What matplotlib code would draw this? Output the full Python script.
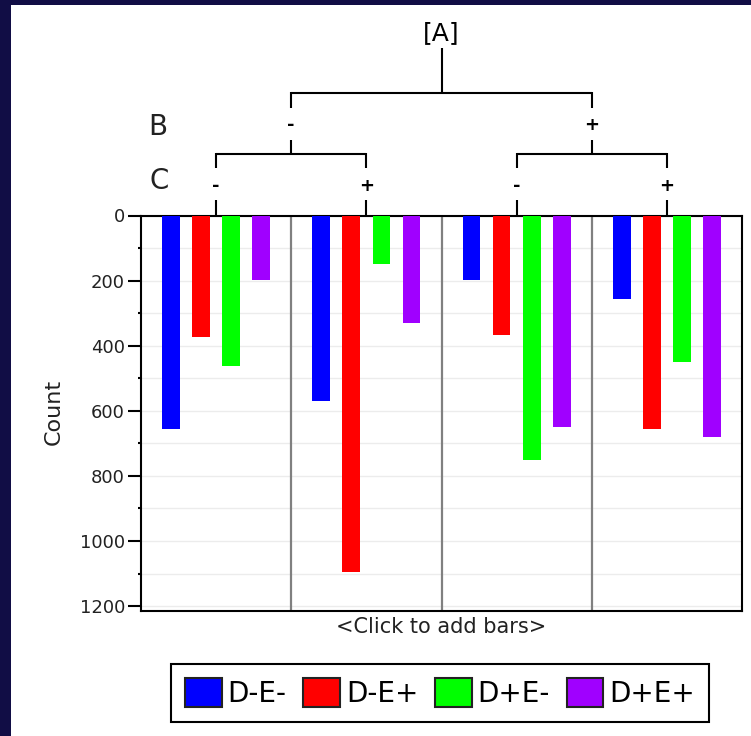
import numpy as np
import matplotlib
matplotlib.use("Agg")
import matplotlib.pyplot as plt
from matplotlib.patches import Patch, Rectangle
from matplotlib.transforms import blended_transform_factory
from matplotlib.ticker import MultipleLocator


##### data #####
SERIES = ["D-E-", "D-E+", "D+E-", "D+E+"]
COLORS = ["#0000ff", "#ff0000", "#00ff00", "#a000ff"]

# panel order: (B-,C-), (B-,C+), (B+,C-), (B+,C+)
B_LEVELS = ["-", "+"]
C_LEVELS = ["-", "+"]

COUNT_DmEm = [657, 569, 199, 255]
COUNT_DmEp = [373, 1095, 368, 657]
COUNT_DpEm = [461, 148, 750, 450]
COUNT_DpEp = [198, 331, 650, 681]

YTICKS = [0, 200, 400, 600, 800, 1000, 1200]


##### figure #####
W, H = 751, 736
fig = plt.figure(figsize=(W / 100, H / 100), dpi=100)
fig.patch.set_facecolor("#110d45")
fig.patches.append(Rectangle((11 / W, 0), 1, 1 - 5 / H, transform=fig.transFigure,
                             facecolor="white", edgecolor="none", zorder=-10))

def fy(p):
    # pixel row -> figure fraction
    return 1 - p / H

ax = fig.add_axes([141 / W, fy(611), (742 - 141) / W, (611 - 215.5) / H])

values = [COUNT_DmEm, COUNT_DmEp, COUNT_DpEm, COUNT_DpEp]
n_panels = len(COUNT_DmEm)
x = np.arange(n_panels)
width = 0.118
offsets = [-0.3, -0.1, 0.1, 0.3]

for vals, off, col, name in zip(values, offsets, COLORS, SERIES):
    ax.bar(x + off, vals, width=width, color=col, edgecolor="none", zorder=3, label=name)

for sep in x[:-1] + 0.5:
    ax.axvline(sep, color="#808080", linewidth=1.6, zorder=2)

ax.set_xlim(-0.5, n_panels - 0.5)
ax.set_ylim(1215, 0)
ax.set_xticks([])
ax.set_yticks(YTICKS)
ax.yaxis.set_minor_locator(MultipleLocator(100))
ax.yaxis.grid(True, which="both", color="#ececec", linewidth=1.0, zorder=0)
ax.set_axisbelow(True)
ax.tick_params(axis="y", which="major", length=9.5, width=1.5, pad=2, labelsize=13, labelcolor="#222222")
ax.tick_params(axis="y", which="minor", length=2.5, width=1.5)
for s in ax.spines.values():
    s.set_linewidth(1.5)

ax.set_xlabel("<Click to add bars>", fontsize=15, labelpad=4, color="#222222")
fig.text(54 / W, fy(412), "Count", rotation=90, ha="center", va="center", fontsize=16, color="#222222")


##### factor tree above the bars #####
tr = blended_transform_factory(ax.transData, fig.transFigure)
lk = dict(color="black", linewidth=1.5, transform=tr, clip_on=False, solid_capstyle="butt")

def vline(xv, p0, p1):
    ax.plot([xv, xv], [fy(p0), fy(p1)], **lk)

def hline(x0, x1, p):
    ax.plot([x0, x1], [fy(p), fy(p)], **lk)

# C level
for b in range(len(B_LEVELS)):
    left, right = 2 * b, 2 * b + 1
    for i, lab in zip([left, right], C_LEVELS):
        vline(i, 200, 215.5)
        ax.text(i, fy(186), lab, transform=tr, ha="center", va="center", fontsize=13, fontweight="bold")
        vline(i, 153, 168)
    hline(left, right, 154)
    vline((left + right) / 2, 140, 154)

# B level
b_pos = [0.5, 2.5]
for xb, lab in zip(b_pos, B_LEVELS):
    ax.text(xb, fy(125), lab, transform=tr, ha="center", va="center", fontsize=13, fontweight="bold")
    vline(xb, 92, 108)
hline(b_pos[0], b_pos[1], 93)
vline(np.mean(b_pos), 48, 93)
ax.text(np.mean(b_pos), fy(33), "[A]", transform=tr, ha="center", va="center", fontsize=18)

fig.text(157.5 / W, fy(127), "B", ha="center", va="center", fontsize=20, color="#222222")
fig.text(159 / W, fy(181), "C", ha="center", va="center", fontsize=20, color="#222222")


##### legend #####
handles = [Patch(facecolor=c, edgecolor="#222222", linewidth=1.5, label=s) for c, s in zip(COLORS, SERIES)]
leg = fig.legend(handles=handles, loc="center", bbox_to_anchor=(440 / W, fy(693)), ncol=4,
                 fontsize=20, handlelength=1.33, handleheight=1.2, handletextpad=0.2,
                 columnspacing=0.6, borderpad=0.5, fancybox=False, framealpha=1,
                 edgecolor="black")
leg.get_frame().set_linewidth(1.5)

fig.savefig("out.png", dpi=100, facecolor=fig.get_facecolor())
